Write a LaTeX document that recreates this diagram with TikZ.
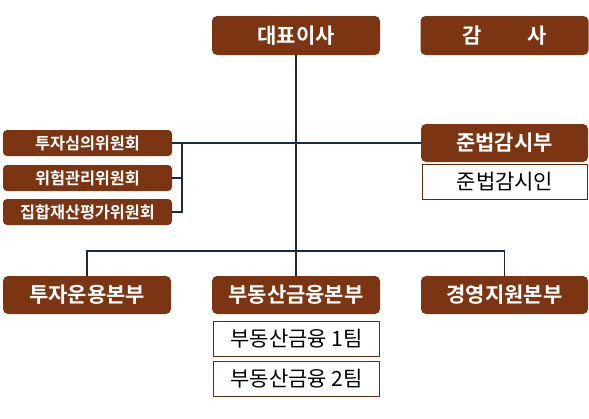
\documentclass[tikz,border=0pt]{standalone}
\usepackage{fontspec}
\newfontfamily\kr{Noto Sans CJK KR}
\newfontfamily\krb{Noto Sans CJK KR Bold}
\definecolor{brownbox}{HTML}{7B3512}
\definecolor{brownline}{HTML}{5E2A10}
\definecolor{conn}{HTML}{1B2A41}
\tikzset{
  head/.style={fill=brownbox, draw=none, rounded corners=5pt, text=white,
    font=\krb\fontsize{21}{23}\selectfont, minimum width=168pt, minimum height=39pt, inner sep=0pt},
  comm/.style={fill=brownbox, draw=none, rounded corners=4pt, text=white,
    font=\krb\fontsize{16.3}{18}\selectfont, minimum width=169pt, minimum height=26pt, inner sep=0pt},
  sub/.style={fill=white, draw=brownline, line width=1.2pt, text=black,
    font=\kr\fontsize{21}{23}\selectfont, minimum width=166pt, minimum height=35pt, inner sep=0pt},
  link/.style={draw=conn, line width=1.1pt},
}
\begin{document}
\begin{tikzpicture}[x=1pt,y=-1pt]
\useasboundingbox (0,0) rectangle (589,418);
% top
\node[head] (ceo) at (296,35.5) {대표이사};
\node[head] (audit) at (504.5,35.5) {감\hspace{2.2em}사};
% compliance
\node[head, minimum height=38pt, minimum width=167pt] (comp) at (504.5,143) {준법감시부};
\node[sub, minimum width=165pt, minimum height=35pt] (compo) at (505,182) {준법감시인};
% committees
\node[comm] (c1) at (87.5,143) {투자심의위원회};
\node[comm] (c2) at (87.5,178) {위험관리위원회};
\node[comm] (c3) at (87.5,212) {집합재산평가위원회};
% divisions
\node[head, minimum height=38pt] (d1) at (87,295) {투자운용본부};
\node[head, minimum height=38pt] (d2) at (296,295) {부동산금융본부};
\node[head, minimum height=38pt, minimum width=167pt] (d3) at (504.5,295) {경영지원본부};
% teams
\node[sub] (t1) at (296.5,339) {부동산금융 1팀};
\node[sub] (t2) at (296.5,379) {부동산금융 2팀};
% connectors
\coordinate (br1) at (182,143);
\coordinate (br2) at (182,178);
\coordinate (br3) at (182,212);
\coordinate (bus) at (296,251);
\draw[link] (ceo.south) -- (d2.north);
\draw[link] (c1.east) -- (br1) -- (comp.west);
\draw[link] (br1) -- (br3) -- (c3.east);
\draw[link] (br2) -- (c2.east);
\draw[link] (d1.north) |- (bus) -| (d3.north);
\end{tikzpicture}
\end{document}
